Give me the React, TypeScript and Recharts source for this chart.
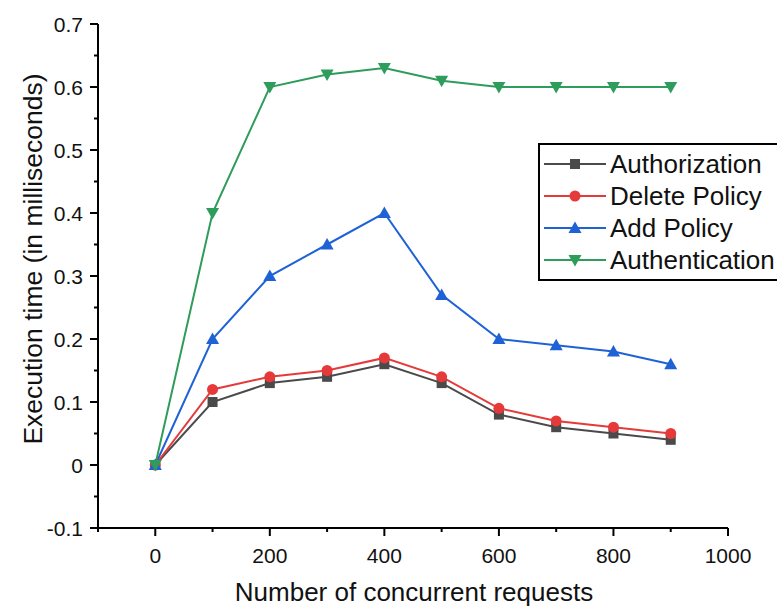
import { LineChart, Line, XAxis, YAxis, Label } from "recharts"

const requests = [0, 100, 200, 300, 400, 500, 600, 700, 800, 900]
const authorization = [0, 0.1, 0.13, 0.14, 0.16, 0.13, 0.08, 0.06, 0.05, 0.04]
const deletePolicy = [0, 0.12, 0.14, 0.15, 0.17, 0.14, 0.09, 0.07, 0.06, 0.05]
const addPolicy = [0, 0.2, 0.3, 0.35, 0.4, 0.27, 0.2, 0.19, 0.18, 0.16]
const authentication = [0, 0.4, 0.6, 0.62, 0.63, 0.61, 0.6, 0.6, 0.6, 0.6]

const xTicks = [-100, 0, 100, 200, 300, 400, 500, 600, 700, 800, 900, 1000]
const xLabels = [0, 200, 400, 600, 800, 1000]
const yTicks = [-0.1, -0.05, 0, 0.05, 0.1, 0.15, 0.2, 0.25, 0.3, 0.35, 0.4, 0.45, 0.5, 0.55, 0.6, 0.65, 0.7]
const yLabels = [-0.1, 0, 0.1, 0.2, 0.3, 0.4, 0.5, 0.6, 0.7]

const FONT = "'Liberation Sans', Arial, sans-serif"

const data = requests.map((r, i) => ({
  requests: r,
  authorization: authorization[i],
  deletePolicy: deletePolicy[i],
  addPolicy: addPolicy[i],
  authentication: authentication[i],
}))

type Shape = "square" | "circle" | "up" | "down"

const series: { key: string; name: string; color: string; shape: Shape }[] = [
  { key: "authorization", name: "Authorization", color: "#4a4a4a", shape: "square" },
  { key: "deletePolicy", name: "Delete Policy", color: "#e63a3a", shape: "circle" },
  { key: "addPolicy", name: "Add Policy", color: "#1f62d6", shape: "up" },
  { key: "authentication", name: "Authentication", color: "#2e9c5a", shape: "down" },
]

function Marker({ cx, cy, shape, color }: { cx: number; cy: number; shape: Shape; color: string }) {
  if (shape === "square") return <rect x={cx - 5} y={cy - 5} width={10} height={10} fill={color} />
  if (shape === "circle") return <circle cx={cx} cy={cy} r={5.5} fill={color} />
  if (shape === "up")
    return <polygon points={`${cx},${cy - 6.5} ${cx - 6.5},${cy + 5} ${cx + 6.5},${cy + 5}`} fill={color} />
  return <polygon points={`${cx},${cy + 6.5} ${cx - 6.5},${cy - 5} ${cx + 6.5},${cy - 5}`} fill={color} />
}

const isMajor = (v: number, list: number[]) => list.some((l) => Math.abs(l - v) < 1e-9)

function XTick(props: any) {
  const { x, y, payload } = props
  const major = isMajor(payload.value, xLabels)
  return (
    <g>
      <line x1={x} y1={y} x2={x} y2={y + (major ? 8 : 4)} stroke="#000" strokeWidth={2} />
      {major && (
        <text x={x} y={y + 35} textAnchor="middle" fontSize={21} fontFamily={FONT} fill="#111">
          {payload.value}
        </text>
      )}
    </g>
  )
}

function YTick(props: any) {
  const { x, y, payload } = props
  const major = isMajor(payload.value, yLabels)
  const label = Math.abs(payload.value) < 1e-9 ? "0" : String(Math.round(payload.value * 10) / 10)
  return (
    <g>
      <line x1={x} y1={y} x2={x - (major ? 8 : 4)} y2={y} stroke="#000" strokeWidth={2} />
      {major && (
        <text x={x - 15} y={y + 7.5} textAnchor="end" fontSize={21} fontFamily={FONT} fill="#111">
          {label}
        </text>
      )}
    </g>
  )
}

function LegendBox() {
  return (
    <div
      style={{
        position: "absolute",
        left: 538,
        top: 143,
        width: 250,
        height: 131,
        border: "2px solid #000",
        background: "#fff",
        paddingTop: 3,
      }}
    >
      {series.map((s) => (
        <div key={s.key} style={{ display: "flex", alignItems: "center", height: 32 }}>
          <svg width={70} height={32} style={{ flex: "none" }}>
            <line x1={4} y1={16} x2={66} y2={16} stroke={s.color} strokeWidth={2} />
            <Marker cx={35} cy={16} shape={s.shape} color={s.color} />
          </svg>
          <span style={{ fontFamily: FONT, fontSize: 26, color: "#111", whiteSpace: "nowrap" }}>{s.name}</span>
        </div>
      ))}
    </div>
  )
}

export default function App() {
  return (
    <div
      style={{
        position: "absolute",
        left: 0,
        top: 0,
        width: 777,
        height: 608,
        overflow: "hidden",
        background: "#fff",
      }}
    >
      <LineChart width={777} height={608} data={data} margin={{ top: 24, right: 49, bottom: 10, left: 8 }}>
        <XAxis
          dataKey="requests"
          type="number"
          domain={[-100, 1000]}
          ticks={xTicks}
          interval={0}
          height={70}
          tickSize={0}
          tickMargin={0}
          tickLine={false}
          axisLine={{ stroke: "#000", strokeWidth: 2 }}
          tick={<XTick />}
        >
          <Label
            content={() => (
              <text x={414} y={601} textAnchor="middle" fontSize={26} fontFamily={FONT} fill="#111">
                Number of concurrent requests
              </text>
            )}
          />
        </XAxis>
        <YAxis
          type="number"
          domain={[-0.1, 0.7]}
          ticks={yTicks}
          interval={0}
          width={90}
          tickSize={0}
          tickMargin={0}
          tickLine={false}
          axisLine={{ stroke: "#000", strokeWidth: 2 }}
          tick={<YTick />}
        >
          <Label
            content={() => (
              <text
                x={0}
                y={0}
                transform="translate(42, 259) rotate(-90)"
                textAnchor="middle"
                fontSize={26.5}
                fontFamily={FONT}
                fill="#111"
              >
                Execution time (in milliseconds)
              </text>
            )}
          />
        </YAxis>
        {series.map((s) => (
          <Line
            key={s.key}
            dataKey={s.key}
            name={s.name}
            type="linear"
            stroke={s.color}
            strokeWidth={2}
            isAnimationActive={false}
            dot={(p: any) => <Marker key={`${s.key}-${p.index}`} cx={p.cx} cy={p.cy} shape={s.shape} color={s.color} />}
            activeDot={false}
          />
        ))}
      </LineChart>
      <LegendBox />
    </div>
  )
}
